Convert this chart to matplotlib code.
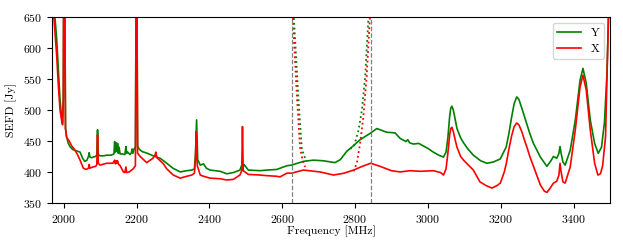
import matplotlib
matplotlib.use("Agg")
import matplotlib.pyplot as plt

plt.rcParams['font.family'] = 'serif'
plt.rcParams['font.serif'] = ['cmr10']
plt.rcParams['axes.formatter.use_mathtext'] = True
plt.rcParams['mathtext.fontset'] = 'cm'

# ---- data ----
y_freq = [1968, 1976, 1981, 1985, 1990, 1995, 1997, 1999, 2000, 2003, 2005, 2008, 2012, 2017, 2025, 2035,
          2045, 2052, 2058, 2064, 2068, 2070, 2072, 2076, 2081, 2088, 2091, 2093, 2095, 2100, 2110, 2118,
          2130, 2138, 2140, 2142, 2144, 2146, 2148, 2150, 2152, 2155, 2162, 2168, 2171, 2173, 2176, 2182,
          2186, 2188, 2190, 2194, 2197, 2199, 2201, 2203, 2207, 2215, 2230, 2246, 2265, 2283, 2300, 2320,
          2338, 2352, 2359, 2362, 2365, 2368, 2375, 2384, 2392, 2402, 2430, 2448, 2466, 2484, 2489, 2492,
          2495, 2498, 2507, 2539, 2558, 2585, 2613, 2626, 2658, 2686, 2713, 2745, 2760, 2777, 2795, 2814,
          2841, 2860, 2887, 2910, 2924, 2940, 2945, 2950, 2960, 2975, 3000, 3015, 3030, 3043, 3050, 3055,
          3060, 3063, 3066, 3070, 3075, 3080, 3090, 3098, 3110, 3125, 3145, 3162, 3180, 3199, 3215, 3222,
          3230, 3237, 3244, 3250, 3258, 3265, 3272, 3280, 3290, 3309, 3327, 3338, 3345, 3354, 3360, 3363,
          3366, 3371, 3377, 3391, 3405, 3418, 3426, 3435, 3446, 3458, 3468, 3477, 3485, 3492, 3496, 3500]
y_sefd = [760, 650, 613, 570, 516, 484, 480, 520, 700, 700, 470, 457, 447, 441, 436, 434,
          432, 422, 417, 419, 425, 431, 424, 423, 424, 425, 428, 468, 428, 426, 426, 427,
          427, 429, 449, 432, 447, 433, 446, 430, 440, 429, 429, 428, 441, 430, 432, 428,
          431, 437, 430, 438, 440, 700, 700, 442, 437, 433, 430, 426, 422, 414, 406, 400,
          402, 403, 405, 430, 484, 420, 411, 413, 406, 403, 401, 397, 399, 403, 411, 406,
          412, 410, 403, 402, 403, 404, 410, 411, 417, 419, 418, 415, 420, 433, 442, 452,
          462, 470, 464, 463, 454, 449, 452, 447, 445, 446, 438, 432, 427, 424, 432, 455,
          490, 503, 506, 500, 485, 470, 455, 447, 437, 427, 418, 414, 416, 421, 440, 460,
          488, 510, 521, 517, 503, 490, 477, 462, 446, 424, 409, 418, 425, 422, 430, 441,
          430, 416, 411, 435, 484, 548, 567, 543, 484, 446, 430, 440, 480, 560, 650, 700]

x_freq = [1968, 1973, 1981, 1985, 1990, 1995, 1997, 1999, 2000, 2003, 2005, 2008, 2015, 2022, 2030, 2038,
          2045, 2054, 2062, 2068, 2070, 2072, 2080, 2088, 2091, 2093, 2095, 2100, 2118, 2135, 2140, 2142,
          2144, 2146, 2148, 2150, 2155, 2164, 2168, 2171, 2173, 2180, 2191, 2197, 2199, 2201, 2203, 2210,
          2228, 2245, 2251, 2253, 2256, 2265, 2274, 2283, 2301, 2320, 2338, 2352, 2359, 2362, 2364, 2367,
          2375, 2384, 2402, 2430, 2448, 2466, 2484, 2489, 2491, 2493, 2498, 2507, 2539, 2558, 2585, 2594,
          2613, 2626, 2658, 2704, 2741, 2770, 2796, 2820, 2843, 2869, 2900, 2924, 2951, 2980, 3015, 3035,
          3043, 3050, 3055, 3060, 3063, 3066, 3070, 3075, 3080, 3090, 3098, 3125, 3143, 3160, 3176, 3190,
          3199, 3210, 3216, 3222, 3230, 3237, 3244, 3250, 3258, 3265, 3272, 3280, 3290, 3309, 3320, 3327,
          3336, 3345, 3354, 3360, 3363, 3366, 3371, 3377, 3391, 3405, 3418, 3426, 3435, 3446, 3458, 3467,
          3474, 3480, 3488, 3496, 3500]
x_sefd = [760, 650, 586, 543, 500, 481, 476, 520, 700, 700, 470, 456, 450, 442, 436, 428,
          419, 406, 404, 406, 412, 406, 408, 409, 412, 460, 414, 411, 414, 414, 419, 413,
          418, 414, 418, 413, 410, 400, 399, 408, 399, 400, 405, 410, 700, 700, 430, 425,
          415, 422, 427, 432, 423, 418, 413, 405, 395, 390, 393, 395, 398, 420, 465, 410,
          395, 393, 390, 389, 387, 388, 395, 402, 473, 402, 400, 396, 395, 394, 393, 392,
          398, 398, 403, 400, 395, 398, 403, 409, 414, 409, 402, 400, 402, 401, 402, 399,
          395, 405, 430, 460, 470, 472, 465, 452, 440, 425, 419, 403, 384, 378, 374, 378,
          382, 400, 415, 435, 458, 473, 479, 476, 465, 452, 440, 425, 409, 379, 369, 367,
          374, 382, 385, 395, 414, 400, 384, 382, 408, 468, 537, 556, 532, 468, 414, 395,
          397, 410, 457, 650, 700]

# dotted out-of-band curves
y_dot_lo_freq = [2629, 2632, 2645, 2654, 2663, 2668]
y_dot_lo_sefd = [700, 650, 514, 437, 422, 418]
x_dot_lo_freq = [2627, 2629, 2640, 2649, 2656, 2663]
x_dot_lo_sefd = [700, 650, 527, 440, 419, 408]
y_dot_hi_freq = [2787, 2798, 2810, 2819, 2828, 2837, 2840]
y_dot_hi_sefd = [437, 443, 468, 500, 554, 650, 700]
x_dot_hi_freq = [2796, 2805, 2814, 2823, 2832, 2841, 2843]
x_dot_hi_sefd = [401, 414, 446, 489, 554, 650, 700]

band_edges = [2626, 2843]
yticks = [350, 400, 450, 500, 550, 600, 650]
xticks = [2000, 2200, 2400, 2600, 2800, 3000, 3200, 3400]

fig = plt.figure(figsize=(6.23, 2.49), dpi=100)
ax = fig.add_axes([0.0835, 0.185, 0.8955, 0.747])

ax.plot(y_freq, y_sefd, color='green', lw=1.2, label='Y')
ax.plot(x_freq, x_sefd, color='red', lw=1.2, label='X')
ax.plot(y_dot_lo_freq, y_dot_lo_sefd, color='green', lw=1.3, ls=':')
ax.plot(y_dot_hi_freq, y_dot_hi_sefd, color='green', lw=1.3, ls=':')
ax.plot(x_dot_lo_freq, x_dot_lo_sefd, color='red', lw=1.3, ls=':')
ax.plot(x_dot_hi_freq, x_dot_hi_sefd, color='red', lw=1.3, ls=':')
for b in band_edges:
    ax.axvline(b, color='gray', ls='--', lw=0.9)

ax.set_xlim(1968, 3500)
ax.set_ylim(350, 650)
ax.set_xticks(xticks)
ax.set_yticks(yticks)
ax.tick_params(labelsize=8.5)
ax.set_xlabel('Frequency [MHz]', fontsize=8.5, labelpad=1)
ax.set_ylabel('SEFD [Jy]', fontsize=8.5)
ax.legend(loc='upper right', fontsize=8.5)

fig.savefig('out.png', dpi=100)
